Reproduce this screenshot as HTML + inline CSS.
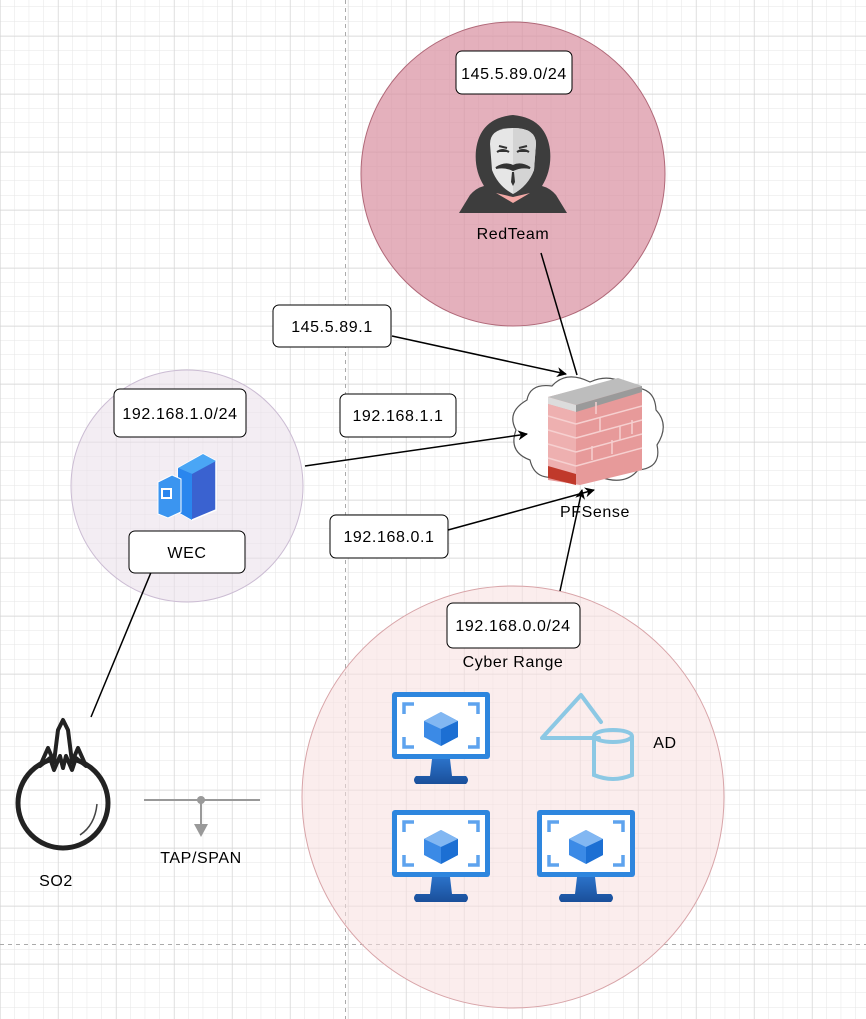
<!DOCTYPE html>
<html><head><meta charset="utf-8"><style>
html,body{margin:0;padding:0;background:#fff}
svg{display:block}
text{font-family:"Liberation Sans",sans-serif;font-size:16px;letter-spacing:0.6px;fill:#000}
</style></head><body>
<svg width="866" height="1019" viewBox="0 0 866 1019" xmlns="http://www.w3.org/2000/svg">
<defs>
<pattern id="minor" x="0.2" y="7" width="14.5" height="14.5" patternUnits="userSpaceOnUse">
<path d="M14.5 0V14.5M0 14.5H14.5" stroke="#e6e6e6" stroke-width="1" fill="none"/>
</pattern>
<pattern id="major" x="0.2" y="36" width="58" height="58" patternUnits="userSpaceOnUse">
<path d="M0 0V58M0 0H58" stroke="#d2d2d2" stroke-width="1" fill="none"/>
</pattern>
<marker id="ar" markerWidth="10" markerHeight="10" refX="9" refY="5" orient="auto" markerUnits="userSpaceOnUse" viewBox="0 0 10 10">
<path d="M0 0L10 5L0 10L3 5Z" fill="#000"/>
</marker>
<linearGradient id="vb" x1="0" y1="0" x2="0" y2="1"><stop offset="0" stop-color="#2b72c9"/><stop offset="1" stop-color="#1a4f9a"/></linearGradient>
<g id="mon">
<rect x="0" y="0" width="98" height="67" rx="3" fill="#2e86de"/>
<rect x="5" y="5" width="88" height="57" fill="#fff"/>
<path d="M12 22V12H22M76 12H86V22M12 45V55H22M76 55H86V45" stroke="#5ea3ee" stroke-width="3.5" fill="none"/>
<path d="M49 20L66 29V45L49 54L32 45V29Z" fill="#3b8ae6"/>
<path d="M49 20L66 29L49 37L32 29Z" fill="#82b7f2"/>
<path d="M49 37L66 29V45L49 54Z" fill="#1c6fd3"/>
<path d="M40 67H58L60 84H74Q78 88 74 92H24Q20 88 24 84H38Z" fill="url(#vb)"/>
</g>
</defs>
<rect width="866" height="1019" fill="url(#minor)"/>
<rect width="866" height="1019" fill="url(#major)"/>
<line x1="345.5" y1="0" x2="345.5" y2="1019" stroke="#aaa" stroke-dasharray="4 4"/>
<line x1="0" y1="944.5" x2="866" y2="944.5" stroke="#aaa" stroke-dasharray="4 4"/>

<circle cx="513" cy="174" r="152" fill="#d98ea0" fill-opacity="0.7" stroke="#b06878"/>
<circle cx="187" cy="486" r="116" fill="#e9dfea" fill-opacity="0.55" stroke="#cbbcd3"/>
<circle cx="513" cy="797" r="211" fill="#f7dede" fill-opacity="0.55" stroke="#d8a4a8"/>

<rect x="456" y="51" width="116" height="43" rx="6" fill="#fff" stroke="#000"/>
<text x="514" y="79" text-anchor="middle">145.5.89.0/24</text>
<g>
<path d="M459 213L470 195Q476 188 484 186Q474 170 476 150Q480 118 513 115Q546 118 550 150Q552 170 542 186Q550 188 556 195L567 213Z" fill="#3d3d3d"/>
<path d="M490 144Q490 128 513 128Q536 128 536 144L534 170Q528 186 513 194Q498 186 492 170Z" fill="#e6e6e6"/>
<path d="M513 128Q536 128 536 144L534 170Q528 186 513 194Z" fill="#d4d4d4"/>
<path d="M497 152Q503 148 509 152M517 152Q523 148 529 152M499 146l8 2M519 148l8-2M496 168Q505 162 513 166Q521 162 530 168Q521 166 513 170Q505 166 496 168Z" stroke="#333" stroke-width="2" fill="#333"/>
<path d="M512 172L511 182L513 186L515 182L514 172Z" fill="#333"/>
<path d="M496 193L513 203L530 193L513 197Z" fill="#f3a9a6"/>
</g>
<text x="513" y="239" text-anchor="middle">RedTeam</text>

<!-- firewall -->
<path d="M527 400Q530 383 552 386Q566 370 590 382Q612 372 630 388Q655 386 656 410Q670 425 657 445Q662 468 638 470Q625 486 600 477Q580 488 560 476Q535 482 530 460Q508 452 516 430Q506 412 527 400Z" fill="#fff" stroke="#555" stroke-width="1.2"/>
<path d="M548 397L614 380L642 388V470L580 485L548 480Z" fill="#e79a9a"/>
<path d="M548 397L618 378L642 386L576 405Z" fill="#bdbdbd"/>
<path d="M548 397L576 405V412L548 404Z" fill="#dcdcdc"/>
<path d="M576 405L642 386V392L576 412Z" fill="#9a9a9a"/>
<path d="M548 404L576 412V485L548 478Z" fill="#eeb0b0"/>
<path d="M548 416L576 424M548 430L576 438M548 444L576 452M548 458L576 466M576 424L642 406M576 438L642 420M576 452L642 434M576 466L642 448M600 418V432M620 426V440M592 446V460M612 440V454M632 420V434M596 402V414" stroke="#f6d0d0" stroke-width="1.5"/>
<path d="M548 466L576 474V485L548 478Z" fill="#c0392b"/>
<text x="595" y="517" text-anchor="middle">PFSense</text>

<!-- connectors -->
<line x1="541" y1="253" x2="577" y2="375" stroke="#000" stroke-width="1.5"/>
<line x1="392" y1="336" x2="566" y2="374" stroke="#000" stroke-width="1.5" marker-end="url(#ar)"/>
<line x1="305" y1="466" x2="527" y2="434" stroke="#000" stroke-width="1.5" marker-end="url(#ar)"/>
<line x1="448" y1="530" x2="594" y2="490" stroke="#000" stroke-width="1.5" marker-end="url(#ar)"/>
<line x1="560" y1="591" x2="582" y2="490" stroke="#000" stroke-width="1.5" marker-end="url(#ar)"/>
<line x1="152" y1="570" x2="91" y2="717" stroke="#000" stroke-width="1.5"/>

<rect x="273" y="305" width="118" height="42" rx="6" fill="#fff" stroke="#000"/>
<text x="332" y="332" text-anchor="middle">145.5.89.1</text>
<rect x="340" y="394" width="116" height="43" rx="6" fill="#fff" stroke="#000"/>
<text x="398" y="421" text-anchor="middle">192.168.1.1</text>
<rect x="330" y="515" width="118" height="43" rx="6" fill="#fff" stroke="#000"/>
<text x="389" y="542" text-anchor="middle">192.168.0.1</text>

<rect x="114" y="389" width="132" height="48" rx="6" fill="#fff" stroke="#000"/>
<text x="180" y="419" text-anchor="middle">192.168.1.0/24</text>
<path d="M178 468L203 454L216 461V510L192 520L178 512Z" fill="#3a62d0" stroke="#fff" stroke-width="1.5"/>
<path d="M178 468L203 454L216 461L192 474Z" fill="#4aa6f5"/>
<path d="M178 468L192 474V520L178 512Z" fill="#2a86ee"/>
<path d="M158 482L172 475L181 479V512L168 518L158 514Z" fill="#3b95f0" stroke="#fff" stroke-width="1"/>
<rect x="161" y="488" width="11" height="11" fill="#fff"/>
<rect x="163" y="490" width="7" height="7" fill="#2a86ee"/>
<rect x="129" y="531" width="116" height="42" rx="6" fill="#fff" stroke="#000"/>
<text x="187" y="558" text-anchor="middle">WEC</text>

<rect x="447" y="603" width="133" height="45" rx="6" fill="#fff" stroke="#000"/>
<text x="513" y="631" text-anchor="middle">192.168.0.0/24</text>
<text x="513" y="667" text-anchor="middle">Cyber Range</text>
<use href="#mon" x="392" y="692"/>
<use href="#mon" x="392" y="810"/>
<use href="#mon" x="537" y="810"/>
<path d="M599 738H542L581 695L601 722" stroke="#8cc8e4" stroke-width="4" fill="none" stroke-linecap="round" stroke-linejoin="round"/>
<path d="M594 736V775Q613 783 632 775V736" stroke="#8cc8e4" stroke-width="4" fill="none"/>
<ellipse cx="613" cy="736" rx="19" ry="6" stroke="#8cc8e4" stroke-width="4" fill="none"/>
<text x="665" y="748" text-anchor="middle">AD</text>

<circle cx="63" cy="803" r="45" fill="none" stroke="#222" stroke-width="5"/>
<path d="M40 766L48 748L54 762L58 730L63 720L68 730L72 762L78 748L86 766L76 758L72 770L66 756L63 768L60 756L54 770L50 758Z" fill="#fff" stroke="#222" stroke-width="4" stroke-linejoin="round"/>
<path d="M97 804Q95 825 80 835" stroke="#444" stroke-width="1.5" fill="none"/>
<text x="56" y="886" text-anchor="middle">SO2</text>

<line x1="144" y1="800" x2="260" y2="800" stroke="#999" stroke-width="2"/>
<circle cx="201" cy="800" r="4" fill="#999"/>
<line x1="201" y1="800" x2="201" y2="824" stroke="#999" stroke-width="2"/>
<path d="M194 824H208L201 837Z" fill="#999"/>
<text x="201" y="863" text-anchor="middle">TAP/SPAN</text>
</svg>
</body></html>
